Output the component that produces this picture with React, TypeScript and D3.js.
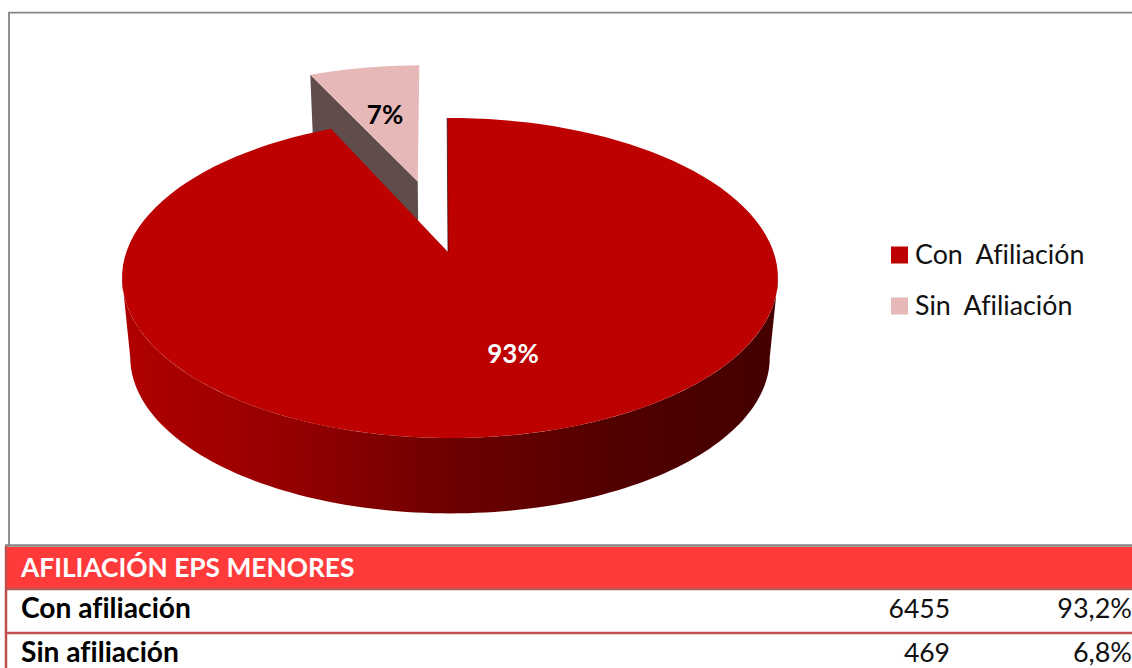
import * as d3 from "d3";

const categories = ["Con  Afiliación", "Sin  Afiliación"];
const percentLabels = ["93%", "7%"];
const sliceColors = ["#bd0000", "#e6b8b7"];
const tableTitle = "AFILIACIÓN EPS MENORES";
const rowLabels = ["Con afiliación", "Sin afiliación"];
const counts = [6455, 469];
const rowPercents = ["93,2%", "6,8%"];

const WIDTH = 1132;
const HEIGHT = 668;
const FONT = "Lato, Carlito, sans-serif";

// perspective of the pie plane
const apexX = 448;
const apexY = 252;
const scaleU = 323.6;
const scaleV = 155.8;
const tilt = 0.1625;
const depth = 80;
const bottomScale = 0.975;
const explode = 0.5;
const rimShift = 0.006;
const firstAngle = -0.009;

type Pt = [number, number];

const project = (u: number, v: number): Pt => {
  const w = 1 + tilt * v;
  return [apexX + (scaleU * u) / w, apexY - (scaleV * v) / w];
};
const extrude = ([x, y]: Pt): Pt => [
  apexX + 2 + (x - apexX - 2) * bottomScale,
  apexY + depth + (y - apexY) * bottomScale,
];
const rimPoint = (a: number, ou = rimShift, ov = 0): Pt =>
  project(ou + Math.sin(a), ov + Math.cos(a));
const rim = (a0: number, a1: number, ou = rimShift, ov = 0): Pt[] =>
  d3.range(0, 121).map((i) => rimPoint(a0 + ((a1 - a0) * i) / 120, ou, ov));

const line = d3.line<Pt>();
const closed = (pts: Pt[]) => `${line(pts)}Z`;

const arcs = d3
  .pie<number>()
  .sort(null)
  .startAngle(firstAngle)
  .endAngle(firstAngle + 2 * Math.PI)(counts);
const big = arcs[0];
const small = arcs[1];

// biggest slice, with silhouette angles of the side wall
const silhouette = Math.acos(-tilt);
const bigTop = [...rim(big.startAngle, big.endAngle), project(0, 0)];
const wallTop = rim(silhouette, 2 * Math.PI - silhouette);
const wallPath = closed([...wallTop, ...wallTop.map(extrude).reverse()]);

// small slice, pulled out along its middle angle
const midAngle = (small.startAngle + small.endAngle) / 2;
const offU = explode * Math.sin(midAngle) + 0.009;
const offV = explode * Math.cos(midAngle);
const smallApex = project(offU, offV);
const smallTop = [...rim(small.startAngle, small.endAngle, offU, offV), smallApex];
const smallCorner = rimPoint(small.startAngle, offU, offV);
const smallWall = [smallCorner, smallApex, extrude(smallApex), extrude(smallCorner)];

const wallColors = d3
  .scaleLinear<string>()
  .domain([0, 0.25, 0.5, 0.75, 1])
  .range(["#b00000", "#960000", "#6e0000", "#520000", "#440000"]);

const rowY = d3.scaleOrdinal<number>().domain(rowLabels).range([609, 653]);
const legendY = d3.scaleOrdinal<number>().domain(categories).range([255, 306]);

export default function App() {
  return (
    <svg
      width={WIDTH}
      height={HEIGHT}
      style={{ position: "absolute", left: 0, top: 0, background: "#fff", fontVariantLigatures: "none" }}
      fontFamily={FONT}
    >
      <defs>
        <linearGradient id="wall" x1="0" x2="1" y1="0" y2="0">
          {d3.range(0, 1.01, 0.25).map((t) => (
            <stop key={t} offset={t} stopColor={wallColors(t)} />
          ))}
        </linearGradient>
      </defs>

      <path d="M9 545V12.7H1132" fill="none" stroke="#868686" strokeWidth={1.8} />

      <path d={closed(smallWall)} fill="#5f4c4b" />
      <path d={closed(smallTop)} fill={sliceColors[1]} />
      <path d={wallPath} fill="url(#wall)" />
      <path d={closed(bigTop)} fill={sliceColors[0]} />
      <path d={line([project(0, 0), rimPoint(big.startAngle)]) ?? ""} stroke="#300000" strokeWidth={0.7} fill="none" />

      <text x={513} y={363} textAnchor="middle" fontSize={26} fontWeight={700} fill="#fff">
        {percentLabels[0]}
      </text>
      <text x={385} y={124} textAnchor="middle" fontSize={26} fontWeight={700} fill="#000">
        {percentLabels[1]}
      </text>

      {categories.map((c, i) => (
        <g key={c}>
          <rect x={891} y={legendY(c) - 8.5} width={17} height={17} fill={sliceColors[i]} />
          <text x={915} y={legendY(c) + 9} fontSize={26.8} fill="#111" xmlSpace="preserve">
            {c}
          </text>
        </g>
      ))}

      <rect x={6} y={547} width={WIDTH} height={41} fill="#ff3a3a" />
      <path d="M5 545.5H1132" stroke="#868686" strokeWidth={2.5} />
      <path d="M5 589H1132" stroke="#b55a5a" strokeWidth={2.5} />
      <path d="M5 633H1132" stroke="#c0504d" strokeWidth={2.5} />
      <path d="M6 546V668" stroke="#c0504d" strokeWidth={2.5} />
      <text x={21} y={577} fontSize={26.3} fontWeight={700} fill="#fff">
        {tableTitle}
      </text>
      {rowLabels.map((r, i) => (
        <g key={r}>
          <text x={21} y={rowY(r) + 9} fontSize={28.2} fontWeight={700} fill="#000">
            {r}
          </text>
          <text x={950} y={rowY(r) + 9} fontSize={26.5} textAnchor="end" fill="#111">
            {counts[i]}
          </text>
          <text x={1132} y={rowY(r) + 9} fontSize={27} textAnchor="end" fill="#111">
            {rowPercents[i]}
          </text>
        </g>
      ))}
    </svg>
  );
}
